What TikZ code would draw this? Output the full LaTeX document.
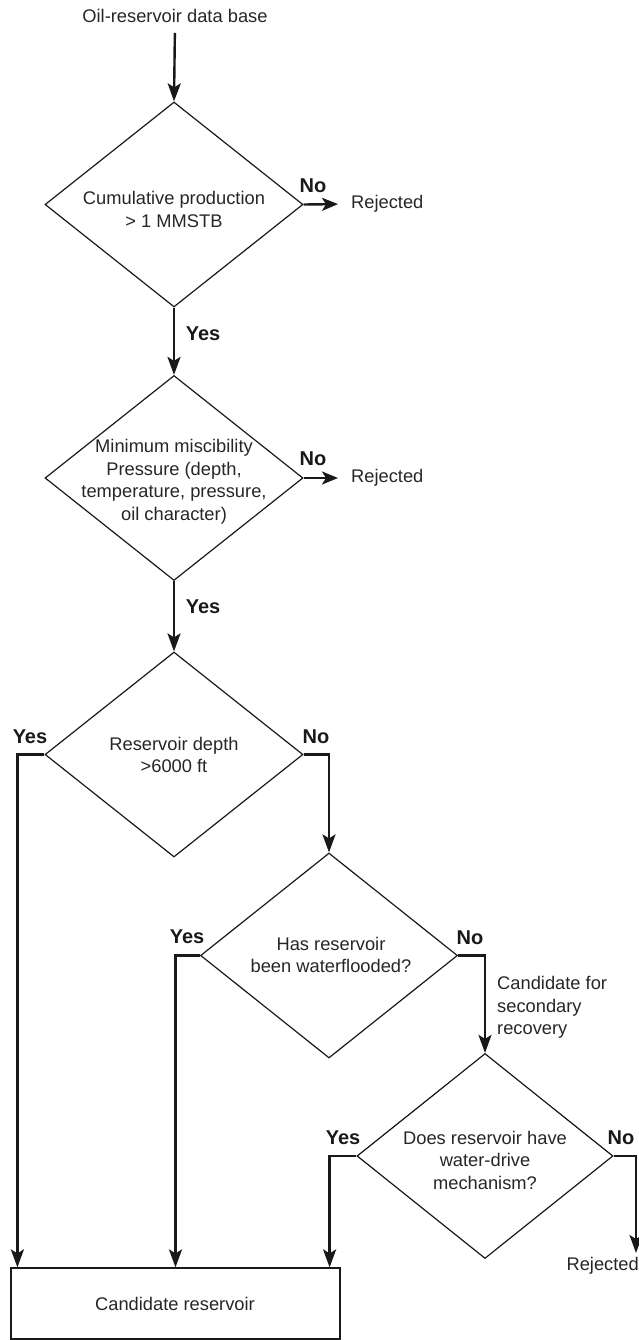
\documentclass[tikz,border=0pt]{standalone}
\usepackage{fontspec}
\setmainfont{Liberation Sans}
\usetikzlibrary{shapes.geometric,arrows.meta}
\begin{document}
\begin{tikzpicture}[x=1pt,y=1pt,
  txt/.style={font=\fontsize{18.3}{22.5}\selectfont, inner sep=0pt, align=center, text=black!85},
  yn/.style={font=\fontsize{20}{22}\selectfont\bfseries, inner sep=0pt, text=black!90},
  dia/.style={draw=black!90, line width=1.2pt, shape=diamond, inner sep=0pt, minimum width=#1, minimum height=205pt},
  boxs/.style={draw=black!90, line width=1.2pt, inner sep=0pt, minimum width=329pt, minimum height=71pt},
  conn/.style={draw=black!90, line width=2.4pt, -{Stealth[length=18pt,width=13pt,inset=4pt]}},
  shortarr/.style={-{Stealth[length=16pt,width=13pt,inset=4pt]}, shorten >=13pt},
]
\useasboundingbox (0,0) rectangle (638,-1340);

\node[txt] (top) at (175,-16) {Oil-reservoir data base};

\node[dia=258pt] (d1) at (174,-204.5) {};
\node[txt] at (174,-209.5) {Cumulative production\\> 1 MMSTB};

\node[dia=258pt] (d2) at (174,-478) {};
\node[txt] at (174,-482) {Minimum miscibility\\Pressure (depth,\\temperature, pressure,\\oil character)};

\node[dia=258pt] (d3) at (174,-754.5) {};
\node[txt] at (174,-755) {Reservoir depth\\>6000 ft};

\node[dia=257pt] (d4) at (329,-955.5) {};
\node[txt] at (331,-955) {Has reservoir\\been waterflooded?};

\node[dia=256pt] (d5) at (485,-1156) {};
\node[txt] at (485,-1160) {Does reservoir have\\water-drive\\mechanism?};

\node[boxs] (box) at (175.5,-1303.5) {};
\node[txt] at (175,-1304) {Candidate reservoir};

\node[txt, anchor=west] (rej1) at (351,-204) {Rejected};
\node[txt, anchor=west] (rej2) at (351,-478) {Rejected};
\node[txt, anchor=east] (rej3) at (639,-1266) {Rejected};
\coordinate (r3) at (636,-1253);

\node[txt, anchor=west, align=left] (cand) at (497,-1007.5) {Candidate for\\secondary\\recovery};

% connectors
\draw[conn, shorten <=10pt] (top.south) -- (d1.north);
\draw[conn] (d1.south) -- (d2.north);
\draw[conn] (d2.south) -- (d3.north);
\draw[conn, shortarr] (d1.east) -- (rej1.west);
\draw[conn, shortarr] (d2.east) -- (rej2.west);
\draw[conn] (d3.west) -| ([xshift=7pt]box.north west);
\draw[conn] (d3.east) -| (d4.north);
\draw[conn] (d4.west) -| (box.north);
\draw[conn] (d4.east) -| (d5.north);
\draw[conn] (d5.west) -| ([xshift=-11pt]box.north east);
\draw[conn] (d5.east) -| (r3);

% yes/no labels
\node[yn] at (203,-334) {Yes};
\node[yn] at (313,-186) {No};
\node[yn] at (203,-607) {Yes};
\node[yn] at (313,-459) {No};
\node[yn] at (30,-737) {Yes};
\node[yn] at (316,-737) {No};
\node[yn] at (187,-937) {Yes};
\node[yn] at (470,-938) {No};
\node[yn] at (343,-1138) {Yes};
\node[yn] at (621,-1138) {No};
\end{tikzpicture}
\end{document}
